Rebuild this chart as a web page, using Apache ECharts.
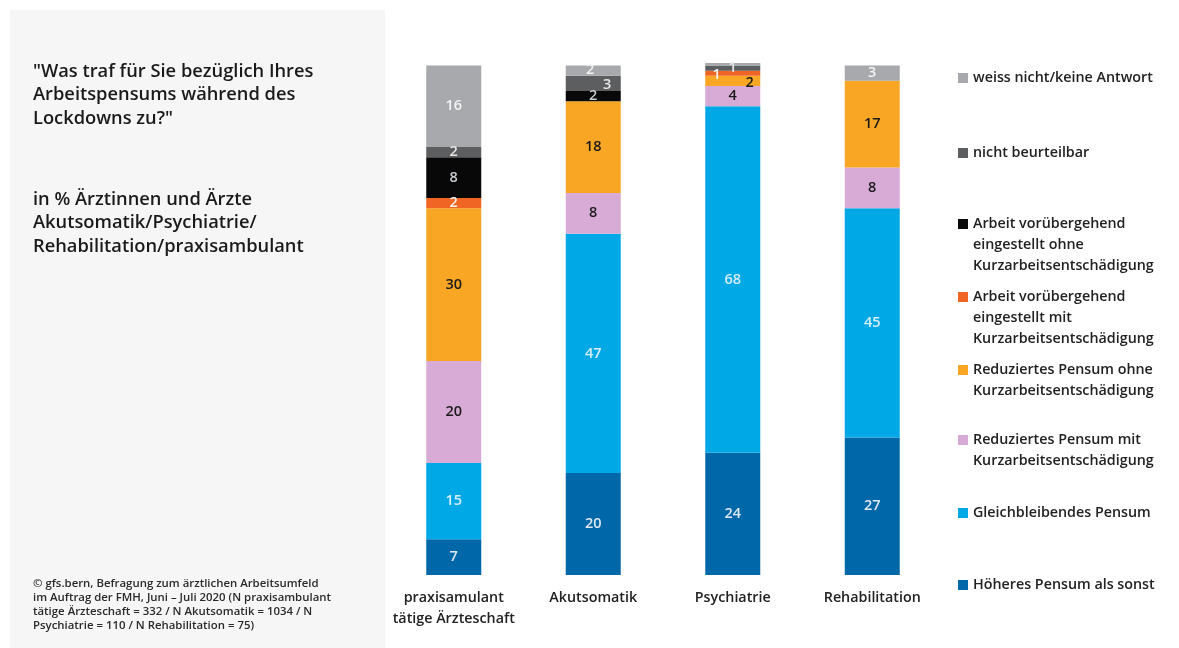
<!DOCTYPE html>
<html>
<head>
<meta charset="utf-8">
<script src="https://cdn.jsdelivr.net/npm/echarts@6/dist/echarts.min.js"></script>
<style>
html,body{margin:0;padding:0;background:#fff;}
#c{width:1179px;height:648px;}
</style>
</head>
<body>
<div id="c"></div>
<script>
const categories = ['praxisamulant\ntätige Ärzteschaft', 'Akutsomatik', 'Psychiatrie', 'Rehabilitation'];
const seriesNames = [
  'Höheres Pensum als sonst',
  'Gleichbleibendes Pensum',
  'Reduziertes Pensum mit\nKurzarbeitsentschädigung',
  'Reduziertes Pensum ohne\nKurzarbeitsentschädigung',
  'Arbeit vorübergehend\neingestellt mit\nKurzarbeitsentschädigung',
  'Arbeit vorübergehend\neingestellt ohne\nKurzarbeitsentschädigung',
  'nicht beurteilbar',
  'weiss nicht/keine Antwort'
];
const hoeheres      = [7, 20, 24, 27];
const gleich        = [15, 47, 68, 45];
const redMit        = [20, 8, 4, 8];
const redOhne       = [30, 18, 2, 17];
const arbMit        = [2, 0, 1, 0];
const arbOhne       = [8, 2, 0, 0];
const nichtBeurt    = [2, 3, 1, 0];
const weissNicht    = [16, 2, 0.5, 3];
const seriesValues = [hoeheres, gleich, redMit, redOhne, arbMit, arbOhne, nichtBeurt, weissNicht];

const colors = ['#0067a8', '#00a9e6', '#d8aad6', '#f8a623', '#f06524', '#080808', '#5d5e60', '#a7a9ac'];
const labelColors = ['#dde8f2', '#d6eef8', '#1a1a1a', '#1a1a1a', '#f4f4f4', '#c9ccd0', '#e6e6e6', '#f4f4f4'];
// label offsets for crowded small segments [series-category]
const labelOffsets = {
  '4-2': [-16, 2],
  '6-2': [0, 0],
  '3-2': [17, 2],
  '7-1': [-3, -1],
  '6-1': [14, 1]
};
const legendLines = [1, 1, 2, 2, 3, 3, 1, 1];
const legendCenters = [585, 513, 440, 370, 297, 224, 153, 78];
const LH = 21;

const font = '"Open Sans", "Noto Sans", "DejaVu Sans", sans-serif';

const series = seriesNames.map((name, si) => ({
  name: name,
  type: 'bar',
  stack: 'total',
  barWidth: 55,
  itemStyle: { color: colors[si] },
  data: seriesValues[si].map((v, ci) => {
    const off = labelOffsets[si + '-' + ci];
    const d = { value: v };
    if (off) d.label = { offset: off };
    return d;
  }),
  label: {
    show: true,
    position: 'inside',
    color: labelColors[si],
    fontFamily: font,
    fontSize: 14.5,
    fontWeight: 600,
    formatter: p => (p.value >= 1 ? String(Math.round(p.value)) : '')
  },
  emphasis: { disabled: true }
}));

const legends = seriesNames.map((name, si) => {
  const n = legendLines[si];
  return {
    data: [name],
    orient: 'vertical',
    left: 958,
    top: legendCenters[si] - (2 * n - 1) * LH / 2,
    padding: 0,
    itemWidth: 10,
    itemHeight: 10,
    itemGap: 4,
    icon: 'rect',
    selectedMode: false,
    formatter: nm => '\n'.repeat(n - 1) + nm,
    textStyle: {
      fontFamily: font,
      fontSize: 14.3,
      fontWeight: 600,
      color: '#222',
      lineHeight: LH
    }
  };
});

const chart = echarts.init(document.getElementById('c'));
chart.setOption({
  animation: false,
  backgroundColor: '#ffffff',
  graphic: [{
    type: 'rect',
    z: -10,
    shape: { x: 10, y: 10, width: 375, height: 638 },
    style: { fill: '#f6f6f6' }
  }],
  title: [{
    text: '"Was traf für Sie bezüglich Ihres\nArbeitspensums während des\nLockdowns zu?"',
    left: 33, top: 60, padding: 0,
    textStyle: { fontFamily: font, fontSize: 18.3, fontWeight: 600, color: '#1a1a1a', lineHeight: 23.5 }
  }, {
    text: 'in % Ärztinnen und Ärzte\nAkutsomatik/Psychiatrie/\nRehabilitation/praxisambulant',
    left: 33, top: 188, padding: 0,
    textStyle: { fontFamily: font, fontSize: 18.3, fontWeight: 600, color: '#1a1a1a', lineHeight: 23.5 }
  }, {
    text: '© gfs.bern, Befragung zum ärztlichen Arbeitsumfeld\nim Auftrag der FMH, Juni – Juli 2020 (N praxisambulant\ntätige Ärzteschaft = 332 / N Akutsomatik = 1034 / N\nPsychiatrie = 110 / N Rehabilitation = 75)',
    left: 33, top: 577, padding: 0,
    textStyle: { fontFamily: font, fontSize: 11.4, fontWeight: 600, color: '#2a2a2a', lineHeight: 13.8 }
  }],
  legend: legends,
  grid: { left: 384, width: 558, top: 63, height: 512 },
  xAxis: {
    type: 'category',
    data: categories,
    axisLine: { show: false },
    axisTick: { show: false },
    axisLabel: {
      interval: 0,
      margin: 12,
      fontFamily: font, fontSize: 14.3, fontWeight: 600, color: '#222', lineHeight: 21
    }
  },
  yAxis: {
    type: 'value',
    min: 0, max: 100.5,
    show: false,
    splitLine: { show: false }
  },
  series: series
});
</script>
</body>
</html>
